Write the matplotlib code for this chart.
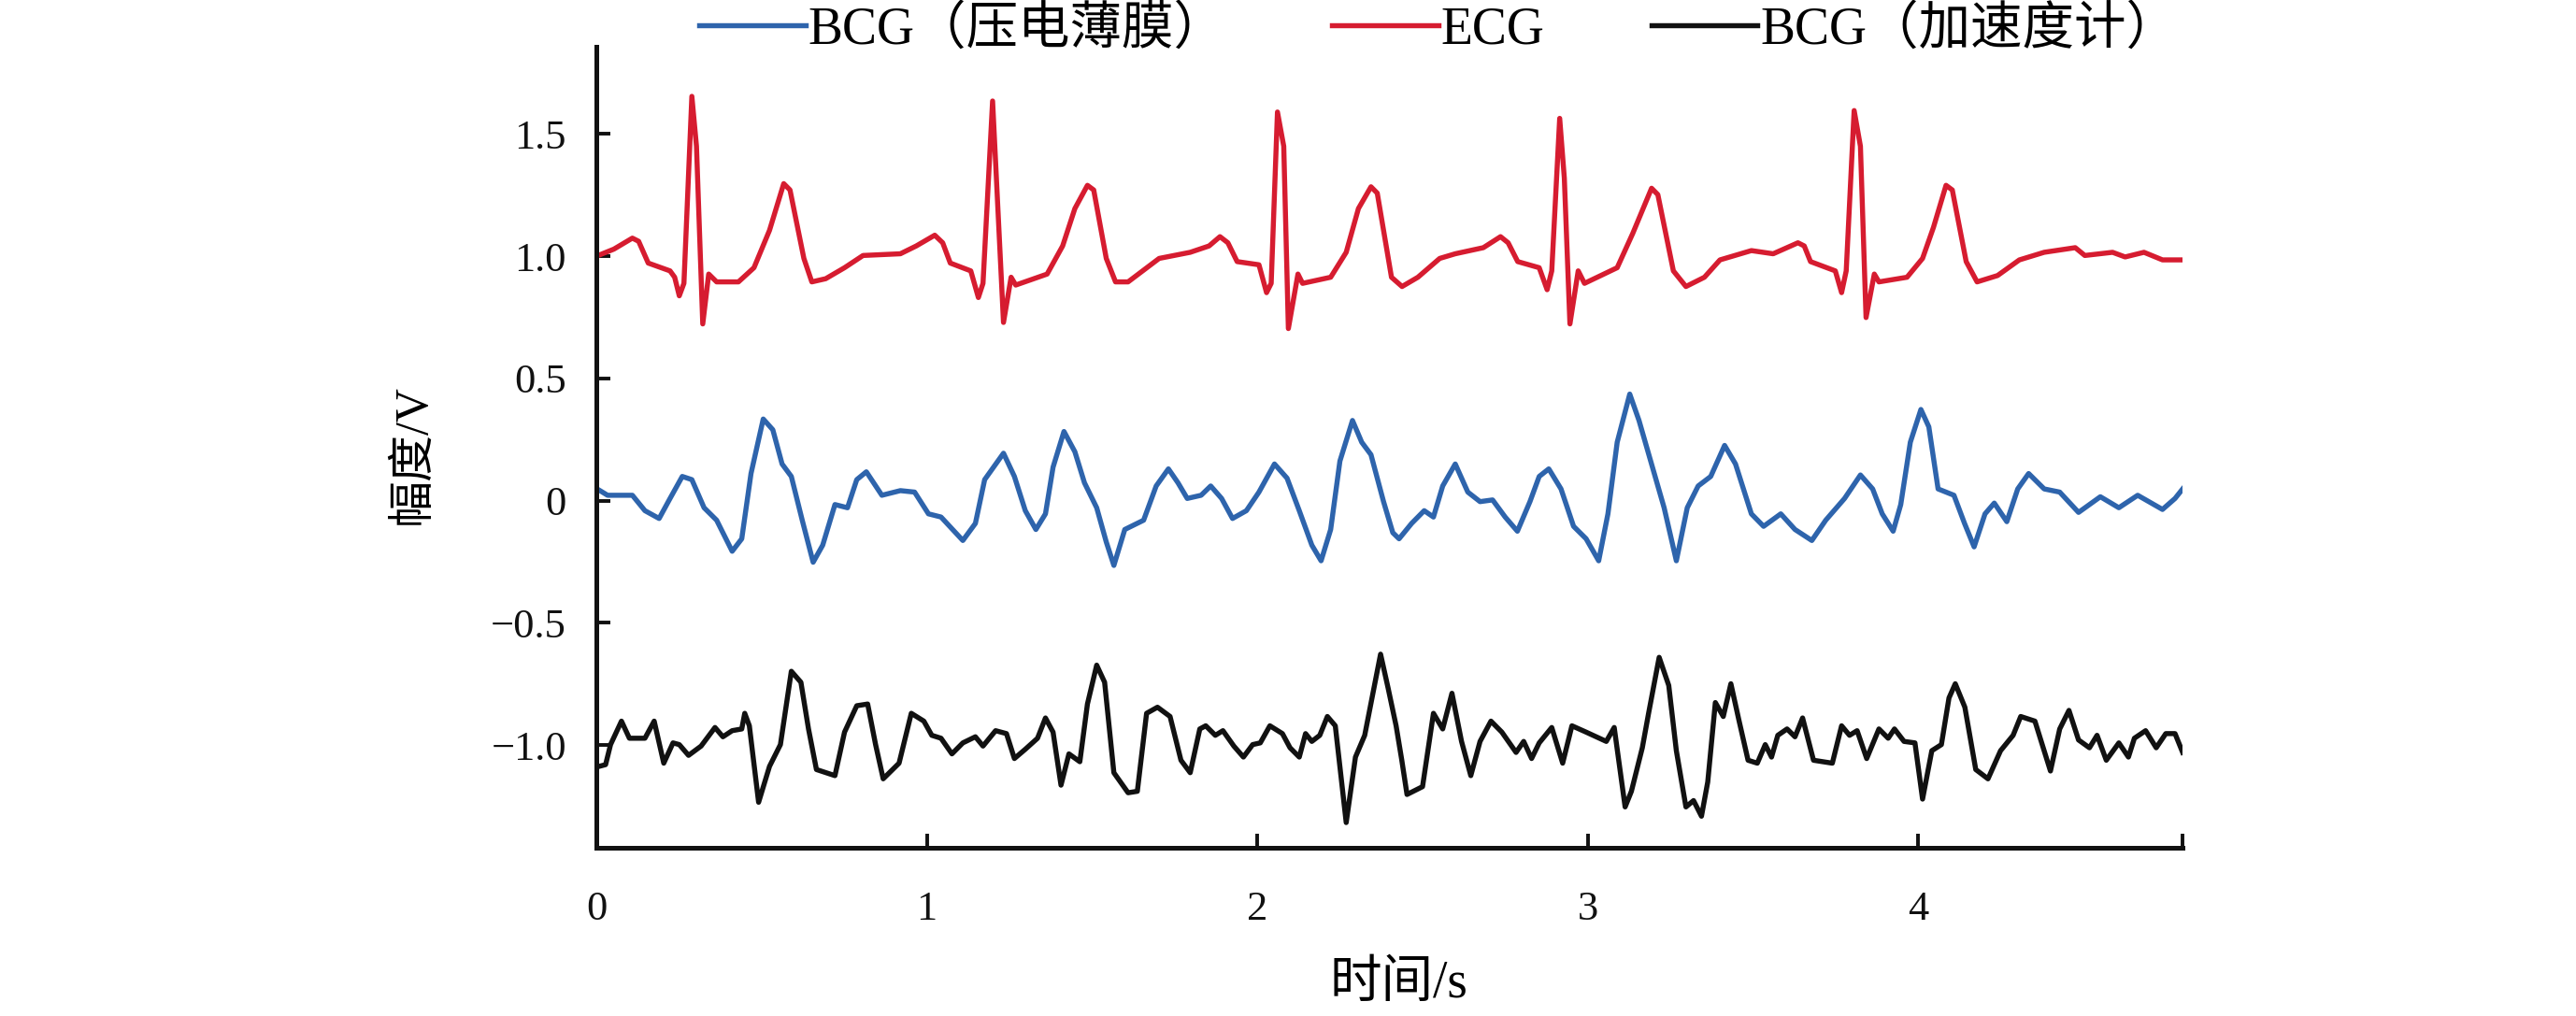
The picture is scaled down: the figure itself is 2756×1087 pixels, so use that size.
import matplotlib
matplotlib.use("Agg")
import matplotlib.pyplot as plt

plt.rcParams['font.family'] = ['Liberation Serif', 'Noto Sans CJK SC']
plt.rcParams['axes.unicode_minus'] = True

# ECG (red)
ecg_t = [0.0, 0.053, 0.109, 0.128, 0.157, 0.223, 0.237, 0.251, 0.265, 0.289, 0.303, 0.322, 0.34, 0.364, 0.43,
         0.477, 0.524, 0.567, 0.586, 0.628, 0.652, 0.694, 0.751, 0.807, 0.92, 0.968, 1.024, 1.048, 1.071, 1.133,
         1.156, 1.17, 1.199, 1.232, 1.255, 1.269, 1.364, 1.411, 1.448, 1.486, 1.505, 1.543, 1.571, 1.609, 1.703,
         1.797, 1.854, 1.887, 1.911, 1.939, 2.005, 2.028, 2.042, 2.061, 2.08, 2.094, 2.123, 2.137, 2.222, 2.269,
         2.306, 2.344, 2.363, 2.406, 2.438, 2.486, 2.552, 2.599, 2.684, 2.736, 2.759, 2.788, 2.853, 2.877, 2.891,
         2.915, 2.929, 2.946, 2.971, 2.99, 3.089, 3.136, 3.193, 3.212, 3.259, 3.297, 3.353, 3.4, 3.495, 3.561,
         3.636, 3.655, 3.674, 3.749, 3.768, 3.782, 3.806, 3.825, 3.842, 3.867, 3.881, 3.966, 4.013, 4.046, 4.084,
         4.103, 4.145, 4.178, 4.24, 4.306, 4.381, 4.475, 4.504, 4.588, 4.626, 4.683, 4.739, 4.8]
ecg_v = [1.0, 1.029, 1.074, 1.061, 0.972, 0.94, 0.914, 0.838, 0.889, 1.654, 1.45, 0.723, 0.927, 0.895, 0.895,
         0.953, 1.106, 1.297, 1.271, 0.991, 0.895, 0.908, 0.953, 1.003, 1.01, 1.042, 1.086, 1.055, 0.972, 0.94,
         0.831, 0.889, 1.635, 0.729, 0.914, 0.882, 0.927, 1.042, 1.195, 1.29, 1.271, 0.991, 0.895, 0.895, 0.991,
         1.016, 1.042, 1.08, 1.055, 0.978, 0.965, 0.851, 0.889, 1.59, 1.45, 0.704, 0.927, 0.889, 0.914, 1.016,
         1.195, 1.284, 1.258, 0.914, 0.876, 0.914, 0.991, 1.01, 1.035, 1.08, 1.055, 0.978, 0.953, 0.863, 0.94,
         1.564, 1.32, 0.723, 0.94, 0.889, 0.953, 1.093, 1.278, 1.252, 0.94, 0.876, 0.914, 0.985, 1.023, 1.01,
         1.055, 1.042, 0.978, 0.94, 0.851, 0.94, 1.596, 1.45, 0.749, 0.927, 0.895, 0.914, 0.991, 1.118, 1.29,
         1.271, 0.978, 0.895, 0.921, 0.985, 1.016, 1.035, 1.003, 1.016, 0.997, 1.016, 0.985, 0.985]

# BCG, piezo film (blue)
film_t = [0.0, 0.034, 0.109, 0.147, 0.19, 0.223, 0.26, 0.289, 0.326, 0.364, 0.411, 0.44, 0.468, 0.505, 0.534,
          0.562, 0.59, 0.623, 0.656, 0.685, 0.722, 0.76, 0.788, 0.817, 0.864, 0.92, 0.963, 1.005, 1.043, 1.109,
          1.147, 1.175, 1.232, 1.265, 1.298, 1.33, 1.359, 1.382, 1.415, 1.448, 1.477, 1.514, 1.543, 1.566, 1.599,
          1.656, 1.694, 1.731, 1.76, 1.788, 1.83, 1.859, 1.892, 1.925, 1.967, 2.005, 2.052, 2.09, 2.127, 2.165,
          2.193, 2.222, 2.25, 2.288, 2.316, 2.344, 2.382, 2.41, 2.429, 2.467, 2.505, 2.533, 2.561, 2.599, 2.637,
          2.674, 2.712, 2.75, 2.787, 2.825, 2.853, 2.882, 2.919, 2.957, 2.995, 3.033, 3.061, 3.089, 3.127, 3.155,
          3.193, 3.231, 3.268, 3.301, 3.334, 3.372, 3.414, 3.447, 3.495, 3.532, 3.584, 3.627, 3.678, 3.72, 3.777,
          3.825, 3.862, 3.891, 3.924, 3.947, 3.976, 4.008, 4.032, 4.06, 4.108, 4.14, 4.169, 4.202, 4.23, 4.268,
          4.301, 4.334, 4.381, 4.428, 4.485, 4.551, 4.607, 4.664, 4.739, 4.777, 4.8]
film_v = [0.05, 0.022, 0.022, -0.041, -0.073, 0.009, 0.099, 0.086, -0.029, -0.08, -0.207, -0.156, 0.111, 0.334,
          0.29, 0.15, 0.099, -0.08, -0.252, -0.182, -0.016, -0.029, 0.086, 0.118, 0.022, 0.041, 0.035, -0.054,
          -0.067, -0.163, -0.093, 0.086, 0.194, 0.099, -0.041, -0.118, -0.054, 0.137, 0.283, 0.2, 0.073, -0.029,
          -0.169, -0.265, -0.118, -0.08, 0.06, 0.13, 0.073, 0.009, 0.022, 0.06, 0.009, -0.073, -0.041, 0.035,
          0.15, 0.092, -0.041, -0.182, -0.246, -0.118, 0.162, 0.328, 0.239, 0.188, -0.004, -0.131, -0.156, -0.093,
          -0.041, -0.067, 0.06, 0.15, 0.035, -0.004, 0.003, -0.067, -0.125, -0.004, 0.099, 0.13, 0.048, -0.105,
          -0.156, -0.246, -0.054, 0.239, 0.436, 0.328, 0.15, -0.029, -0.246, -0.029, 0.06, 0.099, 0.226, 0.15,
          -0.054, -0.105, -0.054, -0.118, -0.163, -0.08, 0.009, 0.105, 0.048, -0.054, -0.125, -0.016, 0.239,
          0.373, 0.302, 0.048, 0.022, -0.093, -0.189, -0.054, -0.01, -0.086, 0.048, 0.111, 0.048, 0.035, -0.048,
          0.016, -0.029, 0.022, -0.036, 0.009, 0.048]

# BCG, accelerometer (black)
acc_t = [0.0, 0.028, 0.043, 0.076, 0.1, 0.147, 0.175, 0.204, 0.232, 0.251, 0.279, 0.317, 0.359, 0.383, 0.411,
         0.44, 0.449, 0.463, 0.491, 0.524, 0.557, 0.59, 0.619, 0.642, 0.666, 0.722, 0.751, 0.788, 0.821, 0.845,
         0.868, 0.916, 0.953, 0.991, 1.015, 1.043, 1.076, 1.109, 1.147, 1.17, 1.208, 1.241, 1.265, 1.298, 1.335,
         1.359, 1.382, 1.406, 1.43, 1.463, 1.486, 1.514, 1.538, 1.566, 1.609, 1.637, 1.665, 1.698, 1.736, 1.769,
         1.797, 1.826, 1.844, 1.873, 1.896, 1.929, 1.958, 1.986, 2.009, 2.038, 2.076, 2.099, 2.127, 2.146, 2.165,
         2.189, 2.212, 2.236, 2.269, 2.297, 2.325, 2.349, 2.373, 2.396, 2.42, 2.437, 2.453, 2.5, 2.533, 2.561,
         2.589, 2.618, 2.646, 2.674, 2.707, 2.74, 2.783, 2.806, 2.83, 2.853, 2.891, 2.924, 2.952, 2.995, 3.056,
         3.08, 3.113, 3.132, 3.165, 3.184, 3.216, 3.245, 3.268, 3.297, 3.32, 3.344, 3.363, 3.386, 3.41, 3.433,
         3.457, 3.485, 3.513, 3.537, 3.556, 3.575, 3.603, 3.627, 3.65, 3.683, 3.74, 3.768, 3.792, 3.815, 3.844,
         3.881, 3.909, 3.928, 3.957, 3.99, 4.013, 4.041, 4.07, 4.093, 4.112, 4.141, 4.174, 4.211, 4.249, 4.287,
         4.31, 4.353, 4.4, 4.428, 4.456, 4.485, 4.518, 4.541, 4.569, 4.607, 4.636, 4.654, 4.688, 4.72, 4.749,
         4.777, 4.8]
acc_v = [-1.09, -1.08, -0.998, -0.902, -0.972, -0.972, -0.902, -1.074, -0.991, -0.998, -1.042, -1.004, -0.928,
         -0.966, -0.941, -0.934, -0.87, -0.921, -1.234, -1.087, -0.998, -0.698, -0.743, -0.934, -1.1, -1.125,
         -0.947, -0.839, -0.832, -0.998, -1.138, -1.074, -0.87, -0.902, -0.96, -0.972, -1.036, -0.991, -0.966,
         -1.004, -0.941, -0.953, -1.055, -1.017, -0.972, -0.889, -0.947, -1.164, -1.036, -1.068, -0.832, -0.673,
         -0.743, -1.113, -1.195, -1.189, -0.87, -0.845, -0.883, -1.062, -1.113, -0.934, -0.921, -0.96, -0.941,
         -1.004, -1.049, -0.998, -0.991, -0.921, -0.953, -1.011, -1.049, -0.953, -0.985, -0.96, -0.883, -0.921,
         -1.317, -1.049, -0.96, -0.794, -0.628, -0.768, -0.921, -1.06, -1.202, -1.17, -0.87, -0.934, -0.788,
         -0.985, -1.125, -0.985, -0.902, -0.947, -1.03, -0.985, -1.055, -0.991, -0.928, -1.074, -0.921, -0.947,
         -0.985, -0.928, -1.253, -1.189, -1.011, -0.87, -0.641, -0.756, -1.023, -1.253, -1.227, -1.291, -1.151,
         -0.826, -0.883, -0.749, -0.896, -1.062, -1.074, -0.998, -1.049, -0.96, -0.934, -0.966, -0.889, -1.062,
         -1.074, -0.921, -0.96, -0.941, -1.055, -0.934, -0.972, -0.934, -0.985, -0.991, -1.221, -1.023, -0.998,
         -0.807, -0.749, -0.845, -1.1, -1.138, -1.023, -0.96, -0.883, -0.902, -1.106, -0.934, -0.858, -0.979,
         -1.011, -0.96, -1.062, -0.991, -1.049, -0.972, -0.941, -1.011, -0.953, -0.953, -1.03]

labels = ['BCG（压电薄膜）', 'ECG', 'BCG（加速度计）']
colors = ['#2e64ac', '#d61c30', '#111111']
x_ticks = [0, 1, 2, 3, 4, 4.8]
x_ticklabels = ['0', '1', '2', '3', '4', '']
y_ticks = [1.5, 1.0, 0.5, 0, -0.5, -1.0]
y_ticklabels = ['1.5', '1.0', '0.5', '0', '\u22120.5', '\u22121.0']

fig = plt.figure(figsize=(27.56, 10.87), dpi=100)
ax = fig.add_axes([0.2315, 0.1656, 0.6158, 0.7884])

lw = 3.9
ax.plot(film_t, film_v, color=colors[0], lw=lw, label=labels[0], solid_joinstyle='round')
ax.plot(ecg_t, ecg_v, color=colors[1], lw=lw, label=labels[1], solid_joinstyle='round')
ax.plot(acc_t, acc_v, color=colors[2], lw=lw, label=labels[2], solid_joinstyle='round')

ax.set_xlim(0, 4.8)
ax.set_ylim(-1.42, 1.857)

for s in ['top', 'right']:
    ax.spines[s].set_visible(False)
for s in ['left', 'bottom']:
    ax.spines[s].set_linewidth(3.6)
    ax.spines[s].set_color('#111111')

ax.set_xticks(x_ticks)
ax.set_xticklabels(x_ticklabels)
ax.set_yticks(y_ticks)
ax.set_yticklabels(y_ticklabels)
ax.tick_params(axis='both', direction='in', length=11, width=2.8, labelsize=32, colors='#111111')
ax.tick_params(axis='x', pad=33)
ax.tick_params(axis='y', pad=23)

ax.set_xlabel('时间/s', fontsize=40)
ax.xaxis.set_label_coords(0.506, -0.14)
ax.set_ylabel('幅度/V', fontsize=36)
ax.yaxis.label.set_va('center')
ax.yaxis.set_label_coords(-0.1155, 0.491)

fig.legend(loc='center', bbox_to_anchor=(0.5584, 0.9706), ncol=3, frameon=False, fontsize=40,
           handlelength=2.05, handletextpad=0.05, columnspacing=2.05)

fig.savefig('out.png', dpi=100)
